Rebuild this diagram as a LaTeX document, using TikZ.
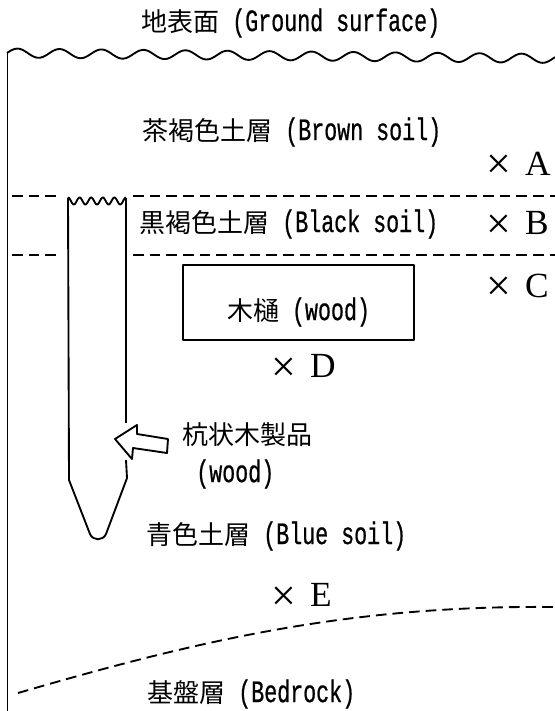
\documentclass[tikz,border=0pt]{standalone}
\usepackage{fontspec}
\usepackage{tikz}
\usetikzlibrary{positioning}
\newfontfamily\cjk{Noto Sans CJK JP}
\newfontfamily\half[Scale=1.2, FakeStretch=0.694, FakeBold=0.6]{Liberation Mono}
\newfontfamily\letr{Liberation Serif}
% 地層名 (和文 + 英文)
\newcommand{\layer}[2]{{\cjk #1}{\half\ (#2)}}
% 試料採取地点
\newcommand{\spot}[1]{{\letr\raisebox{-2.4pt}{\fontsize{33}{33}\selectfont ×}\hspace{0.4em}#1}}

\begin{document}
\begin{tikzpicture}[x=0.75pt, y=-0.75pt,
    lbl/.style={inner sep=0pt, anchor=west, font=\fontsize{19.5}{22}\selectfont},
    pt/.style={inner sep=0pt, anchor=west, font=\fontsize{26.5}{28}\selectfont},
    border/.style={line width=1.4pt, line join=round},
    bound/.style={line width=1.4pt, dash pattern=on 8pt off 4.5pt}
]
    \useasboundingbox (0,0) rectangle (555,711);

    % 地表面
    \node[lbl] (ground) at (141,23) {\layer{地表面}{Ground surface}};
    \draw[border] plot[domain=7:555, samples=260, smooth]
        (\x, {53+0.01*(\x-7)-4.5*sin(8.57*(\x-7))});
    \draw[border] (7.5,53) -- (7.5,711);

    % 茶褐色土層
    \node[lbl] (brown) at (142,132) {\layer{茶褐色土層}{Brown soil}};
    \node[pt] (ptA) at (486,165) {\spot{A}};
    \draw[bound] (12,196) -- (60,196);
    \draw[bound] (133,196) -- (555,196);

    % 黒褐色土層
    \node[lbl] (black) at (139,224) {\layer{黒褐色土層}{Black soil}};
    \node[pt] (ptB) at (486,225) {\spot{B}};
    \draw[bound] (12,255) -- (60,255);
    \draw[bound] (133,255) -- (555,255);

    % 木樋
    \node[pt] (ptC) at (486,287) {\spot{C}};
    \node[draw, border, inner sep=0pt, minimum width=173.25pt,
          minimum height=56.25pt] (tub) at (298.5,302.5) {};
    \node[lbl, anchor=center] (tubtext) at (298.5,312) {\layer{木樋}{wood}};
    \node[pt] (ptD) at (271,368) {\spot{D}};

    % 杭状木製品
    \draw[border] plot[domain=68:126, samples=80, smooth]
        (\x, {201-3.5*cos(31.03*(\x-68))});
    \draw[border] (68,197.5) -- (69,480) -- (90,534)
        .. controls (93,541) and (103,541) .. (106,534)
        -- (127,478) -- (126,460);
    \draw[border] (126,423) -- (126,197.5);
    \draw[border, fill=white] (115,439) -- (137,425) -- (137,434) -- (168,439)
        -- (167,453) -- (133,448) -- (132,459) -- cycle;
    \node[lbl] (stake) at (182,435) {\cjk 杭状木製品};
    \node[lbl] (stakeen) at (196,474) {\half (wood)};

    % 青色土層
    \node[lbl] (blue) at (146,536) {\layer{青色土層}{Blue soil}};
    \node[pt] (ptE) at (271,597) {\spot{E}};
    \draw[bound] (18,693) .. controls (200,640) and (350,605) .. (555,607);

    % 基盤層
    \node[lbl] (rock) at (147,694) {\layer{基盤層}{Bedrock}};
\end{tikzpicture}
\end{document}
